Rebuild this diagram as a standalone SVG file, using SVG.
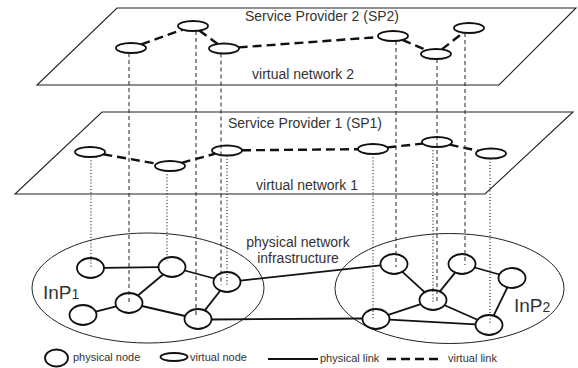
<svg xmlns="http://www.w3.org/2000/svg" width="578" height="368" viewBox="0 0 578 368">
<style>
.plane{fill:none;stroke:#222;stroke-width:1.1}
.txt{font-family:"Liberation Sans",Arial,sans-serif;font-size:14px;fill:#333}
.leg{font-family:"Liberation Sans",Arial,sans-serif;font-size:11px;fill:#333}
.inp{font-family:"Liberation Sans",Arial,sans-serif;font-size:19px;fill:#333}
.domain{fill:none;stroke:#222;stroke-width:1}
.pn{fill:none;stroke:#111;stroke-width:1.8}
.vn{fill:none;stroke:#111;stroke-width:1.8}
.pl{stroke:#111;stroke-width:1.8;fill:none}
.vl{stroke:#111;stroke-width:2.4;fill:none;stroke-dasharray:9,5}
.map-v{stroke:#222;stroke-width:1;fill:none;stroke-dasharray:4,3}
.map-p{stroke:#222;stroke-width:1.2;fill:none;stroke-dasharray:1,2.2}
</style>

<g id="plane2">
<polygon class="plane" points="117,8 576,8 499,85 37,85"/>
<text class="txt" x="322" y="21" text-anchor="middle">Service Provider 2 (SP2)</text>
<text class="txt" x="303" y="79" text-anchor="middle">virtual network 2</text>
</g>
<g id="plane1">
<polygon class="plane" points="102,112 573,112 485,194 15,194"/>
<text class="txt" x="305" y="128" text-anchor="middle">Service Provider 1 (SP1)</text>
<text class="txt" x="307" y="190" text-anchor="middle">virtual network 1</text>
</g>

<g id="InP1">
<ellipse class="domain" cx="148" cy="288" rx="116" ry="55"/>
<text class="inp" x="43" y="299">InP<tspan font-size="14">1</tspan></text>
</g>
<g id="InP2">
<ellipse class="domain" cx="449.5" cy="288.5" rx="114.5" ry="55"/>
<text class="inp" x="514" y="312">InP<tspan font-size="14">2</tspan></text>
</g>
<g id="infra-label">
<text class="txt" x="298" y="247" text-anchor="middle">physical network</text>
<text class="txt" x="298" y="263" text-anchor="middle">infrastructure</text>
</g>

<g id="v2a"><ellipse class="vn" cx="131" cy="48" rx="15" ry="5"/></g>
<g id="v2b"><ellipse class="vn" cx="193" cy="26" rx="15" ry="5"/></g>
<g id="v2c"><ellipse class="vn" cx="224" cy="48.5" rx="15" ry="5"/></g>
<g id="v2d"><ellipse class="vn" cx="393" cy="36" rx="15" ry="5"/></g>
<g id="v2e"><ellipse class="vn" cx="436" cy="54" rx="15" ry="5"/></g>
<g id="v2f"><ellipse class="vn" cx="469" cy="28" rx="15" ry="5"/></g>

<g id="v1a"><ellipse class="vn" cx="90" cy="152" rx="15" ry="5"/></g>
<g id="v1b"><ellipse class="vn" cx="170" cy="166" rx="15" ry="5"/></g>
<g id="v1c"><ellipse class="vn" cx="227" cy="150.5" rx="15" ry="5"/></g>
<g id="v1d"><ellipse class="vn" cx="373" cy="149" rx="15" ry="5"/></g>
<g id="v1e"><ellipse class="vn" cx="437" cy="142" rx="15" ry="5"/></g>
<g id="v1f"><ellipse class="vn" cx="491" cy="153.5" rx="15" ry="5"/></g>

<g id="pA"><ellipse class="pn" cx="90.5" cy="268" rx="13.5" ry="10"/></g>
<g id="pB"><ellipse class="pn" cx="172" cy="267" rx="13.5" ry="10"/></g>
<g id="pC"><ellipse class="pn" cx="227" cy="282" rx="13.5" ry="10"/></g>
<g id="pD"><ellipse class="pn" cx="129" cy="303" rx="13.5" ry="10"/></g>
<g id="pE"><ellipse class="pn" cx="83" cy="315" rx="13.5" ry="10"/></g>
<g id="pF"><ellipse class="pn" cx="198" cy="319" rx="13.5" ry="10"/></g>
<g id="pG"><ellipse class="pn" cx="394" cy="264" rx="13.5" ry="10"/></g>
<g id="pH"><ellipse class="pn" cx="462" cy="264" rx="13.5" ry="10"/></g>
<g id="pI"><ellipse class="pn" cx="512" cy="278" rx="13.5" ry="10"/></g>
<g id="pJ"><ellipse class="pn" cx="433" cy="300" rx="13.5" ry="10"/></g>
<g id="pK"><ellipse class="pn" cx="376" cy="319" rx="13.5" ry="10"/></g>
<g id="pL"><ellipse class="pn" cx="489" cy="325" rx="13.5" ry="10"/></g>

<g id="connectors">
<!-- virtual links SP2 -->
<line class="vl" x1="141.3" y1="44.4" x2="182.7" y2="29.6"/>
<line class="vl" x1="199.3" y1="30.5" x2="217.7" y2="44"/>
<line class="vl" x1="238.6" y1="47.4" x2="378.4" y2="37.1"/>
<line class="vl" x1="402.3" y1="39.9" x2="426.7" y2="50.1"/>
<line class="vl" x1="441.8" y1="49.4" x2="463.2" y2="32.6"/>
<!-- virtual links SP1 -->
<line class="vl" x1="103.3" y1="154.3" x2="156.7" y2="163.7"/>
<line class="vl" x1="181.6" y1="162.8" x2="215.4" y2="153.7"/>
<line class="vl" x1="242" y1="150.3" x2="358" y2="149.2"/>
<line class="vl" x1="387.3" y1="147.4" x2="422.7" y2="143.6"/>
<line class="vl" x1="449.6" y1="144.7" x2="478.4" y2="150.8"/>
<!-- physical links -->
<line class="pl" x1="104" y1="267.8" x2="158.5" y2="267.2"/>
<line class="pl" x1="184.7" y1="270.5" x2="214.3" y2="278.5"/>
<line class="pl" x1="163.1" y1="274.5" x2="137.9" y2="295.5"/>
<line class="pl" x1="116.3" y1="306.3" x2="95.7" y2="311.7"/>
<line class="pl" x1="141.9" y1="306" x2="185.1" y2="316"/>
<line class="pl" x1="220.2" y1="290.7" x2="204.8" y2="310.4"/>
<line class="pl" x1="240.4" y1="280.6" x2="380.6" y2="265.4"/>
<line class="pl" x1="211.5" y1="319.5" x2="362.5" y2="318.5"/>
<line class="pl" x1="402.4" y1="271.8" x2="424.6" y2="292.2"/>
<line class="pl" x1="455.1" y1="272.6" x2="439.9" y2="291.4"/>
<line class="pl" x1="474.6" y1="267.5" x2="499.4" y2="274.5"/>
<line class="pl" x1="507.4" y1="287.4" x2="493.6" y2="315.6"/>
<line class="pl" x1="444.6" y1="305.2" x2="477.4" y2="319.8"/>
<line class="pl" x1="420.7" y1="304.1" x2="388.3" y2="314.9"/>
<line class="pl" x1="389.5" y1="319.7" x2="475.5" y2="324.3"/>
<!-- mappings SP2 (dashed) -->
<line class="map-v" x1="129" y1="53" x2="129" y2="303"/>
<line class="map-v" x1="196" y1="31" x2="196" y2="318"/>
<line class="map-v" x1="221" y1="53.5" x2="221" y2="285"/>
<line class="map-v" x1="396" y1="41" x2="396" y2="267"/>
<line class="map-v" x1="437" y1="59" x2="437" y2="302"/>
<line class="map-v" x1="465" y1="33" x2="465" y2="265"/>
<!-- mappings SP1 (dotted) -->
<line class="map-p" x1="91" y1="157" x2="91" y2="268"/>
<line class="map-p" x1="167" y1="171" x2="167" y2="261"/>
<line class="map-p" x1="227" y1="155.5" x2="227" y2="285"/>
<line class="map-p" x1="373" y1="154" x2="373" y2="320"/>
<line class="map-p" x1="433" y1="147" x2="433" y2="302"/>
<line class="map-p" x1="490" y1="158.5" x2="490" y2="325"/>
</g>

<g id="legend">
<ellipse class="pn" cx="56.5" cy="358" rx="11.5" ry="8.5"/>
<text class="leg" x="73" y="361">physical node</text>
<ellipse class="vn" cx="174" cy="357" rx="13.5" ry="4"/>
<text class="leg" x="190" y="361">virtual node</text>
<line class="pl" x1="268" y1="359" x2="318" y2="359" stroke-width="1.5"/>
<text class="leg" x="320" y="362">physical link</text>
<line class="vl" x1="387" y1="359" x2="443" y2="359" stroke-width="2" stroke-dasharray="10,5.3"/>
<text class="leg" x="448" y="362">virtual link</text>
</g>
</svg>
